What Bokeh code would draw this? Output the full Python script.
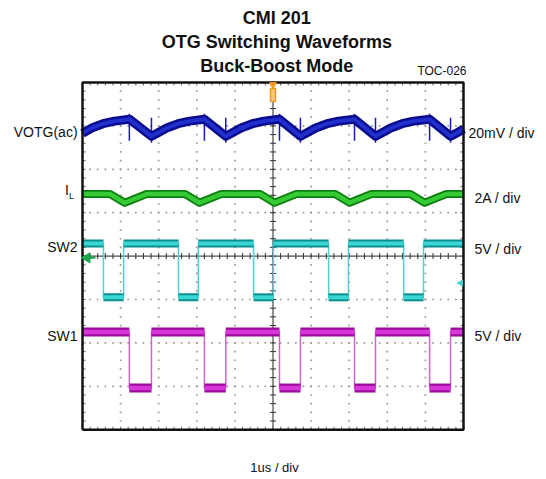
import numpy as np
from bokeh.plotting import figure
from bokeh.models import Label, Range1d
from bokeh.embed import file_html
from bokeh.resources import INLINE

# ---------------- data (screen divisions: x 0..10 @ 1us/div, y -4..4) ----------------
# SW2 (5V/div): switching edges and levels
sw2_fall = [0.55, 2.52, 4.49, 6.46, 8.43]
sw2_rise = [1.08, 3.04, 5.01, 6.98, 8.95]
sw2_high = 0.29
sw2_low = -0.95

# SW1 (5V/div)
sw1_fall = [1.23, 3.20, 5.17, 7.14, 9.11]
sw1_rise = [1.81, 3.76, 5.72, 7.69, 9.66]
sw1_high = -1.75
sw1_low = -3.04

# IL (2A/div) breakpoints
il_x = [0.00, 0.72, 1.11, 1.68, 2.69, 3.07, 3.64, 4.66, 5.04, 5.61,
        6.63, 7.01, 7.58, 8.60, 8.98, 9.55, 10.00]
il_y = [1.43, 1.43, 1.23, 1.43, 1.43, 1.23, 1.43, 1.43, 1.23, 1.43,
        1.43, 1.23, 1.43, 1.43, 1.23, 1.43, 1.43]

# VOTG(ac) (20mV/div) breakpoints
votg_x = [0.00, 0.24, 0.54, 0.84, 1.23, 1.81, 1.96, 2.21, 2.51, 2.81,
          3.20, 3.76, 3.91, 4.16, 4.46, 4.76, 5.17, 5.72, 5.87, 6.12,
          6.42, 6.72, 7.14, 7.69, 7.84, 8.09, 8.39, 8.69, 9.11, 9.66,
          9.81, 10.00]
votg_y = [2.83, 2.95, 3.05, 3.11, 3.155, 2.76, 2.83, 2.95, 3.05, 3.11,
          3.155, 2.76, 2.83, 2.95, 3.05, 3.11, 3.155, 2.76, 2.83, 2.95,
          3.05, 3.11, 3.155, 2.76, 2.83, 2.95, 3.05, 3.11, 3.155, 2.76,
          2.83, 2.93]
# switching spikes on VOTG
spike_x = [1.23, 1.81, 3.20, 3.76, 5.17, 5.72, 7.14, 7.69, 9.11, 9.66]
spike_hi = [3.28, 3.19, 3.28, 3.19, 3.28, 3.19, 3.28, 3.19, 3.28, 3.19]
spike_lo = [2.66, 2.61, 2.66, 2.61, 2.66, 2.61, 2.66, 2.61, 2.66, 2.61]

FONT = "'Liberation Sans', Arial, sans-serif"

# the frame fills the whole canvas; 1 div = 38.1 px (x) and 43.4 px (y)
W, H = 540, 476
X0 = -82 / 38.1
Y0 = 255.6 / 43.4
p = figure(width=W, height=H,
           x_range=Range1d(X0, X0 + W / 38.1), y_range=Range1d(Y0 - H / 43.4, Y0),
           x_axis_type=None, y_axis_type=None, toolbar_location=None,
           output_backend="svg", min_border=0)
p.grid.visible = False
p.outline_line_color = None
p.background_fill_color = "white"
p.border_fill_color = "white"

# ---------------- graticule ----------------
minor_x = np.round(np.arange(0, 10.0001, 0.2), 3)
minor_y = np.round(np.arange(-4, 4.0001, 0.2), 3)
dx, dy = [], []
for g in [1, 2, 3, 4, 6, 7, 8, 9]:
    for v in minor_y:
        dx.append(g); dy.append(v)
for g in [-3, -2, -1, 1, 2, 3]:
    for v in minor_x:
        dx.append(v); dy.append(g)
p.scatter(dx, dy, marker="square", size=1.7, fill_color="#9a9a9a", line_color=None)

# center cross
p.segment([5], [-4], [5], [4], line_color="#222222", line_width=1)
p.segment([0], [0], [10], [0], line_color="#222222", line_width=1)
# ticks on center lines
p.segment(minor_x, [-0.07] * len(minor_x), minor_x, [0.07] * len(minor_x),
          line_color="#333333", line_width=1)
p.segment([4.92] * len(minor_y), minor_y, [5.08] * len(minor_y), minor_y,
          line_color="#333333", line_width=1)
# ticks on borders
p.segment(minor_x, [4] * len(minor_x), minor_x, [3.93] * len(minor_x),
          line_color="#666666", line_width=1)
p.segment(minor_x, [-4] * len(minor_x), minor_x, [-3.93] * len(minor_x),
          line_color="#666666", line_width=1)
p.segment([0] * len(minor_y), minor_y, [0.08] * len(minor_y), minor_y,
          line_color="#666666", line_width=1)
p.segment([10] * len(minor_y), minor_y, [9.92] * len(minor_y), minor_y,
          line_color="#666666", line_width=1)


# ---------------- square waves ----------------
def square(fall, rise, hi, lo):
    xs, ys = [0], [hi]
    for f, r in zip(fall, rise):
        xs += [f, f, r, r]
        ys += [hi, lo, lo, hi]
    xs.append(10); ys.append(hi)
    hx0 = [0] + list(rise)
    hx1 = list(fall) + [10]
    return xs, ys, hx0, hx1


def draw_square(fall, rise, hi, lo, edge, dark, light, w_out, w_in):
    xs, ys, hx0, hx1 = square(fall, rise, hi, lo)
    p.line(xs, ys, line_color=edge, line_width=1.5)
    p.segment(hx0, [hi] * len(hx0), hx1, [hi] * len(hx1), line_color=dark, line_width=w_out)
    p.segment(list(fall), [lo] * len(fall), list(rise), [lo] * len(rise), line_color=dark, line_width=w_out)
    p.segment(hx0, [hi] * len(hx0), hx1, [hi] * len(hx1), line_color=light, line_width=w_in)
    p.segment(list(fall), [lo] * len(fall), list(rise), [lo] * len(rise), line_color=light, line_width=w_in)


draw_square(sw2_fall, sw2_rise, sw2_high, sw2_low, "#55cfcf", "#0b8f8f", "#3ad6d6", 8, 4)
draw_square(sw1_fall, sw1_rise, sw1_high, sw1_low, "#cc66cc", "#9c0c9c", "#d836d8", 9, 4.5)

# IL
p.line(il_x, il_y, line_color="#0b7f0b", line_width=8, line_join="round")
p.line(il_x, il_y, line_color="#35c935", line_width=4.5, line_join="round")

# VOTG
p.segment(spike_x, spike_lo, spike_x, spike_hi, line_color="#1a1ab8", line_width=1.5)
p.line(votg_x, votg_y, line_color="#0b0b8f", line_width=9, line_join="round")
p.line(votg_x, votg_y, line_color="#2030cc", line_width=4, line_join="round")

# scope frame
p.line([0, 10, 10, 0, 0], [-4, -4, 4, 4, -4], line_color="#111111", line_width=2.5)

# markers
p.scatter([5], [3.95], marker="inverted_triangle", size=7, fill_color="#f29a20", line_color="#f29a20")
p.rect([5], [3.71], width=0.13, height=0.30, fill_color="#f8c880", line_color="#f29a20", line_width=1.5)
p.scatter([0.12], [-0.04], marker="triangle", angle=np.pi / 2, size=10,
          fill_color="#1aa84a", line_color="#1aa84a")
p.segment([0.15], [-0.04], [0.34], [-0.04], line_color="#1aa84a", line_width=2)
p.scatter([9.93], [-0.62], marker="triangle", angle=np.pi / 2, size=6,
          fill_color="#3ad6d6", line_color="#3ad6d6")


# ---------------- texts ----------------
def lab(text, x, y, size, align="left", base="middle", bold=False, font=FONT):
    p.add_layout(Label(x=x, y=y, text=text, text_font=font, text_font_size=size,
                       text_align=align, text_baseline=base, text_color="#111111",
                       text_font_style="bold" if bold else "normal"))


lab("CMI 201", 5.10, 5.49, "18px", "center", "middle", True)
lab("OTG Switching Waveforms", 5.10, 4.94, "18px", "center", "middle", True)
lab("Buck-Boost Mode", 5.10, 4.39, "18px", "center", "middle", True)
lab("TOC-026", 10.08, 4.27, "12px", "right", "middle")

lab("VOTG(ac)", -0.13, 2.86, "14px", "right")
lab("I", -0.354, 1.53, "14px", "right", "middle")
lab("L", -0.354, 1.39, "9px", "left", "middle")
lab("SW2", -0.13, 0.22, "14px", "right")
lab("SW1", -0.13, -1.85, "14px", "right")

lab("20mV / div", 10.13, 2.83, "14px")
lab("2A / div", 10.29, 1.35, "14px")
lab("5V / div", 10.29, 0.175, "14px")
lab("5V / div", 10.29, -1.83, "14px")

lab("1us / div", 5.04, -4.88, "13px", "center")

open("out.html", "w").write(file_html(p, INLINE))
